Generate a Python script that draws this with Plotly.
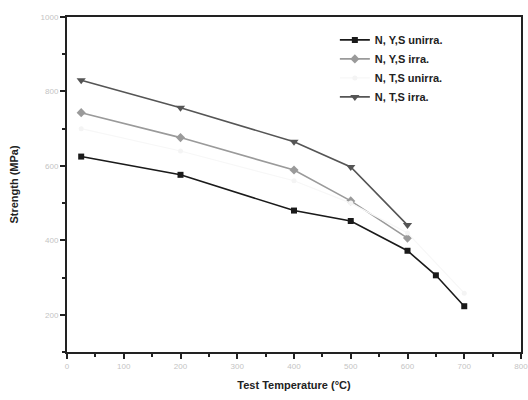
import plotly.graph_objects as go

# Data
temp_yu = [25, 200, 400, 500, 600, 650, 700]
yu_unirra = [625, 576, 480, 452, 372, 306, 223]

temp_yi = [25, 200, 400, 500, 600]
yi_irra = [743, 676, 589, 506, 406]

temp_tu = [25, 200, 400, 500, 600, 700]
tu_unirra = [700, 640, 560, 500, 420, 258]

temp_ti = [25, 200, 400, 500, 600]
ti_irra = [830, 756, 665, 597, 441]

names = ["N, Y,S unirra.", "N, Y,S irra.", "N, T,S unirra.", "N, T,S irra."]

fig = go.Figure()
fig.add_trace(go.Scatter(x=temp_yu, y=yu_unirra, name=names[0], mode="lines+markers",
                         line=dict(color="#1a1a1a", width=1.6),
                         marker=dict(symbol="square", size=6, color="#1a1a1a")))
fig.add_trace(go.Scatter(x=temp_yi, y=yi_irra, name=names[1], mode="lines+markers",
                         line=dict(color="#9a9a9a", width=1.6),
                         marker=dict(symbol="diamond", size=7, color="#9a9a9a")))
fig.add_trace(go.Scatter(x=temp_tu, y=tu_unirra, name=names[2], mode="lines+markers",
                         line=dict(color="#f7f7f7", width=1.2),
                         marker=dict(symbol="circle", size=5, color="#f4f4f4")))
fig.add_trace(go.Scatter(x=temp_ti, y=ti_irra, name=names[3], mode="lines+markers",
                         line=dict(color="#555555", width=1.6),
                         marker=dict(symbol="triangle-down", size=8, color="#555555")))

axis_common = dict(
    showline=True, linecolor="#222", linewidth=2, mirror=True,
    ticks="outside", ticklen=5, tickwidth=1.5, tickcolor="#222",
    showgrid=False, zeroline=False, automargin=False,
    ticklabeloverflow="allow",
    tickfont=dict(family="Liberation Sans", size=8, color="#c4c4c4"),
)

fig.update_xaxes(range=[0, 800], dtick=100, tick0=0,
                 minor=dict(dtick=50, ticks="outside", ticklen=3, tickcolor="#222"),
                 title=dict(text="<b>Test Temperature (°C)</b>",
                            font=dict(family="Liberation Sans", size=11, color="#222"),
                            standoff=12),
                 **axis_common)
fig.update_yaxes(range=[100, 1000], dtick=200, tick0=0,
                 minor=dict(dtick=100, ticks="outside", ticklen=3, tickcolor="#222"),
                 title=dict(text="<b>Strength (MPa)</b>",
                            font=dict(family="Liberation Sans", size=11, color="#222"),
                            standoff=20),
                 **axis_common)

fig.update_layout(
    width=528, height=400,
    margin=dict(l=67, r=7, t=17, b=48),
    paper_bgcolor="white", plot_bgcolor="white",
    showlegend=True,
    legend=dict(x=0.59, y=0.975, xanchor="left", yanchor="top",
                bgcolor="rgba(0,0,0,0)", tracegroupgap=0, itemwidth=30,
                font=dict(family="Liberation Sans", size=11, color="#222", weight="bold")),
)

fig.write_html("out.html", config={"displayModeBar": False},
               post_script="document.body.style.margin='0';")
